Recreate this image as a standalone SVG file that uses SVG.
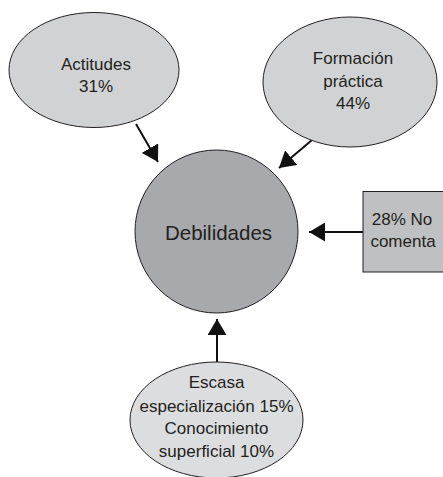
<svg xmlns="http://www.w3.org/2000/svg" width="443" height="477" viewBox="0 0 443 477">
<style>
.n{stroke:#231f20;stroke-width:1}
.t{font-family:"Liberation Sans",Arial,sans-serif;font-size:17px;fill:#231f20;text-anchor:middle}
.c{stroke:#111;stroke-width:2;fill:none}
</style>
<defs>
<marker id="ah" markerWidth="16" markerHeight="19" refX="16" refY="9.5" orient="auto" markerUnits="userSpaceOnUse">
<path d="M0,0 L16,9.5 L0,19 Z" fill="#111"/>
</marker>
</defs>
<rect width="443" height="477" fill="#fff"/>
<g id="connectors">
<line class="c" x1="136" y1="124" x2="158" y2="162" marker-end="url(#ah)"/>
<line class="c" x1="312" y1="140" x2="279" y2="168" marker-end="url(#ah)"/>
<line class="c" x1="363" y1="232" x2="309" y2="232" marker-end="url(#ah)"/>
<line class="c" x1="217" y1="362" x2="217" y2="319" marker-end="url(#ah)"/>
</g>
<g id="actitudes">
<ellipse class="n" cx="94" cy="70" rx="85" ry="57.5" fill="#d1d2d4"/>
<text class="t" x="96" y="70">Actitudes</text>
<text class="t" x="96" y="92">31%</text>
</g>
<g id="formacion">
<ellipse class="n" cx="350" cy="82" rx="87" ry="65" fill="#d1d2d4"/>
<text class="t" x="353" y="64">Formación</text>
<text class="t" x="353" y="87">práctica</text>
<text class="t" x="353" y="109">44%</text>
</g>
<g id="debilidades">
<circle class="n" cx="216.5" cy="231.5" r="81.5" fill="#a7a9ac"/>
<text class="t" x="218.5" y="240" style="font-size:20.5px">Debilidades</text>
</g>
<g id="nocomenta">
<rect class="n" x="363" y="191.5" width="85" height="80.5" fill="#bfc0c2"/>
<text class="t" x="402" y="225">28% No</text>
<text class="t" x="403" y="247">comenta</text>
</g>
<g id="escasa">
<ellipse class="n" cx="216.5" cy="420" rx="86.5" ry="58" fill="#dcdddf"/>
<text class="t" x="216.5" y="388">Escasa</text>
<text class="t" x="216.5" y="411.5">especialización 15%</text>
<text class="t" x="216.5" y="434">Conocimiento</text>
<text class="t" x="216.5" y="456.5">superficial 10%</text>
</g>
</svg>
